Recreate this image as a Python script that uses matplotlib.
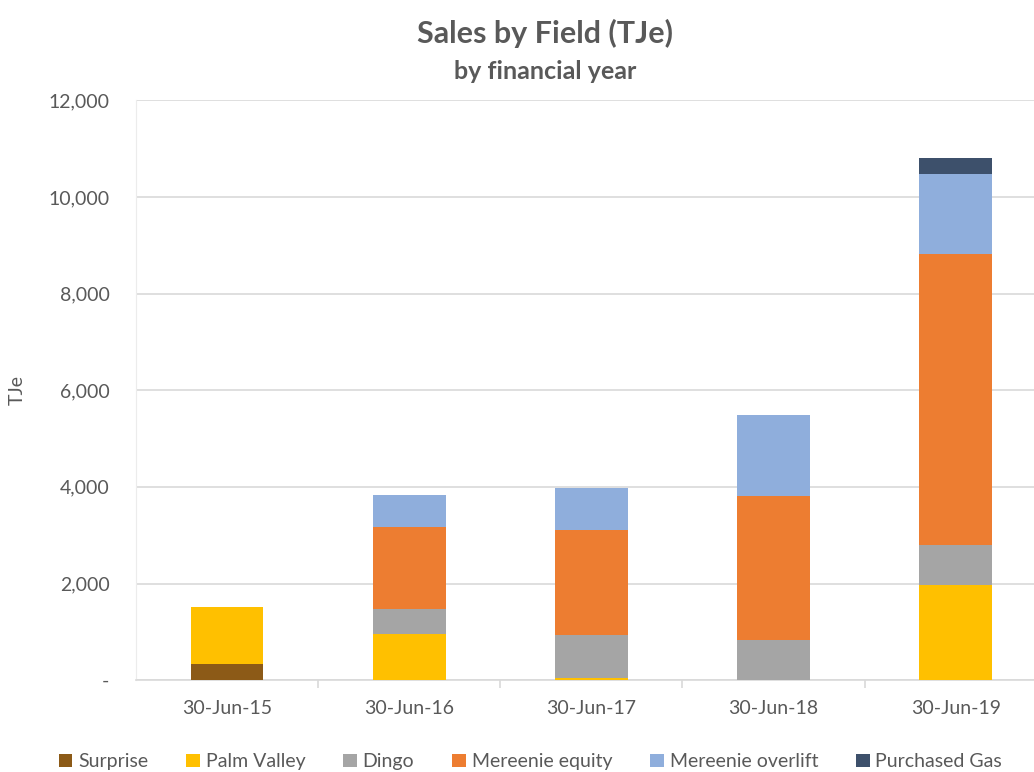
import numpy as np
import matplotlib
matplotlib.use('Agg')
import matplotlib.pyplot as plt
from matplotlib.ticker import FuncFormatter

plt.rcParams['font.family'] = ['Lato', 'DejaVu Sans']

anos = ['30-Jun-15', '30-Jun-16', '30-Jun-17', '30-Jun-18', '30-Jun-19']
surprise = [340, 0, 0, 0, 0]
palm_valley = [1180, 950, 50, 0, 1960]
dingo = [0, 520, 880, 830, 830]
mereenie_equity = [0, 1700, 2170, 2980, 6020]
mereenie_overlift = [0, 660, 870, 1680, 1660]
purchased_gas = [0, 0, 0, 0, 330]

series = [
    ('Surprise', surprise, '#8C5A17'),
    ('Palm Valley', palm_valley, '#FFC000'),
    ('Dingo', dingo, '#A5A5A5'),
    ('Mereenie equity', mereenie_equity, '#ED7D31'),
    ('Mereenie overlift', mereenie_overlift, '#8FAEDC'),
    ('Purchased Gas', purchased_gas, '#3D506B'),
]

cinza = '#595959'

fig = plt.figure(figsize=(10.34, 7.72), dpi=100)
ax = fig.add_axes([0.1315, 0.119, 0.8685, 0.751])

x = np.arange(len(anos))
base = np.zeros(len(anos))
for nome, valores, cor in series:
    ax.bar(x, valores, 0.40, bottom=base, color=cor, label=nome, zorder=3)
    base += np.array(valores)

ax.set_ylim(0, 12000)
ax.set_xlim(-0.5, 4.43)
ax.set_yticks(np.arange(0, 12001, 2000))
ax.yaxis.set_major_formatter(FuncFormatter(lambda v, p: '-' if v == 0 else f'{v:,.0f}'))
ax.yaxis.grid(True, color='#d9d9d9', linewidth=1.2, zorder=0)
ax.tick_params(axis='y', length=0, labelsize=14, labelcolor=cinza, pad=19)

ax.set_xticks(x)
ax.set_xticklabels(anos)
ax.set_xticks(np.arange(0.5, 4.5, 1), minor=True)
ax.tick_params(axis='x', which='major', length=0, labelsize=14, labelcolor=cinza, pad=14)
ax.tick_params(axis='x', which='minor', length=6, color='#d9d9d9', width=1.2)

for lado in ['top', 'right']:
    ax.spines[lado].set_visible(False)
ax.spines['left'].set_color('#ececec')
ax.spines['bottom'].set_color('#d9d9d9')
ax.spines['bottom'].set_linewidth(1.2)

ax.set_ylabel('TJe', fontsize=14, color=cinza, labelpad=16)

fig.text(0.527, 0.957, 'Sales by Field (TJe)', ha='center', va='center',
         fontsize=22, fontweight='bold', color=cinza)
fig.text(0.527, 0.908, 'by financial year', ha='center', va='center',
         fontsize=18, fontweight='bold', color=cinza)

fig.legend(loc='center', bbox_to_anchor=(0.513, 0.013), ncol=6, frameon=False,
           fontsize=14, labelcolor=cinza, handlelength=0.7, handleheight=0.7,
           handletextpad=0.3, columnspacing=1.95)

fig.savefig('out.png', dpi=100)
